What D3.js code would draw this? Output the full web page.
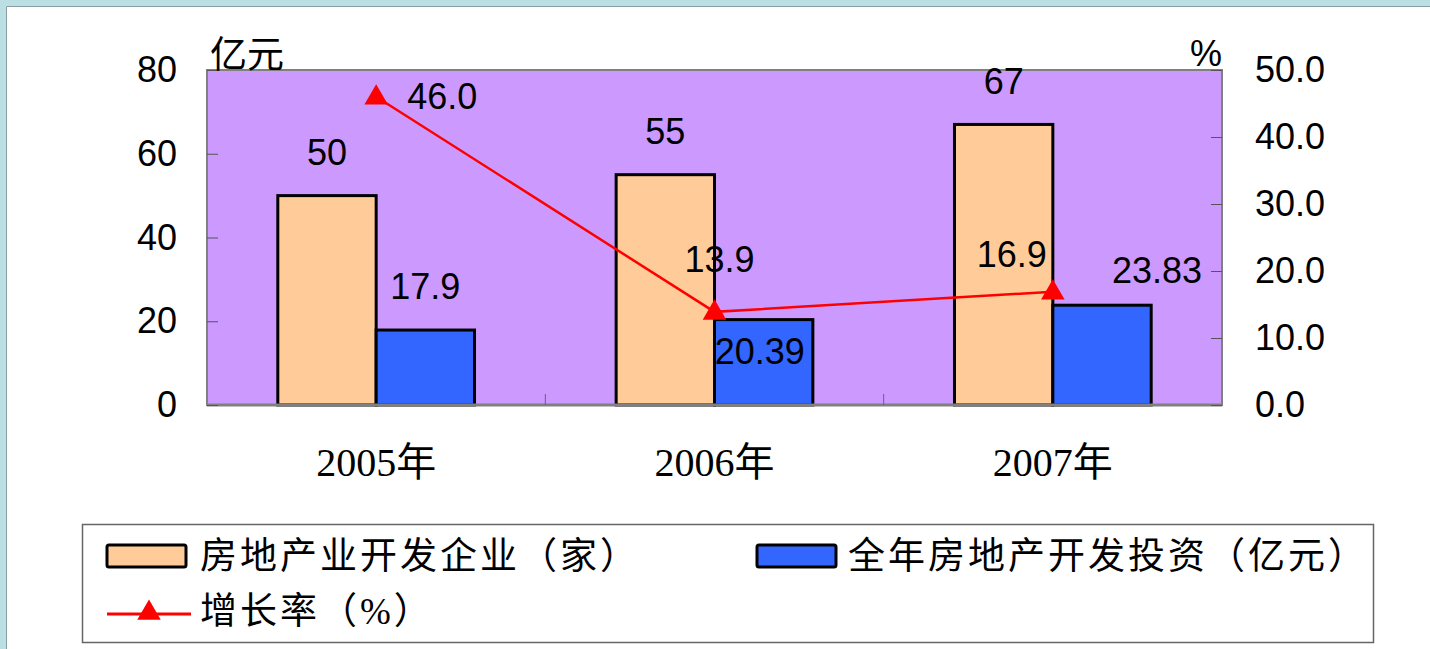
<!DOCTYPE html>
<html>
<head>
<meta charset="utf-8">
<script src="https://cdn.jsdelivr.net/npm/d3@7"></script>
<style>
  html, body { margin: 0; padding: 0; background: #fff; }
  svg { display: block; }
  .num { font-family: "Liberation Sans", Arial, sans-serif; }
  .cjk { font-family: "Liberation Serif", "Noto Sans CJK SC", serif; }
</style>
</head>
<body>
<div class="chart"></div>
<script>
// data
const years = ["2005年", "2006年", "2007年"];
const companies = [50, 55, 67];          // 房地产业开发企业（家）
const investment = [17.9, 20.39, 23.83]; // 全年房地产开发投资（亿元）
const growth = [46.0, 13.9, 16.9];       // 增长率（%）
const leftTicks = [0, 20, 40, 60, 80];
const rightTicks = [0, 10, 20, 30, 40, 50];
const seriesNames = ["房地产业开发企业（家）", "全年房地产开发投资（亿元）", "增长率（%）"];

// label nudges (px) - labels in the original were dragged around by hand
const investLabelNudge = [[0, -44], [-4, 32], [55, -35]];
const growthLabelNudge = [[66, 0], [5, -52], [-41, -37]];

const W = 1430, H = 649;
const plot = { left: 207, top: 70, right: 1222, bottom: 405 };

const svg = d3.select(".chart")
  .append("svg")
  .attr("width", W)
  .attr("height", H);

// window frame (top + left strip)
svg.append("rect").attr("x", 0).attr("y", 0).attr("width", W).attr("height", 6).attr("fill", "#bcdfe3");
svg.append("rect").attr("x", 0).attr("y", 0).attr("width", 6).attr("height", H).attr("fill", "#bcdfe3");
svg.append("line").attr("x1", 6.5).attr("x2", W).attr("y1", 6.5).attr("y2", 6.5).attr("stroke", "#8a9ea1").attr("stroke-width", 1);
svg.append("line").attr("x1", 6.5).attr("x2", 6.5).attr("y1", 6.5).attr("y2", H).attr("stroke", "#8a9ea1").attr("stroke-width", 1);

// scales
let x = d3.scaleBand().domain(years).range([plot.left, plot.right]).padding(0);
let xs = d3.scaleBand().domain([0, 1]).range([0, x.bandwidth()]).paddingInner(0).paddingOuter(0.72);
let yL = d3.scaleLinear().domain([0, 80]).range([plot.bottom, plot.top]);
let yR = d3.scaleLinear().domain([0, 50]).range([plot.bottom, plot.top]);

// plot area
svg.append("rect")
  .attr("x", plot.left)
  .attr("y", plot.top)
  .attr("width", plot.right - plot.left)
  .attr("height", plot.bottom - plot.top)
  .attr("fill", "#cc99ff")
  .attr("stroke", "#808080")
  .attr("stroke-width", 2);

// bars
let barData = [companies, investment];
let barColors = ["#ffcc99", "#3366ff"];
barData.forEach(function (vals, s) {
  svg.append("g")
    .selectAll("rect")
    .data(vals)
    .enter()
    .append("rect")
    .attr("x", function (d, i) { return x(years[i]) + xs(s); })
    .attr("y", function (d) { return yL(d); })
    .attr("width", xs.bandwidth())
    .attr("height", function (d) { return yL(0) - yL(d); })
    .attr("fill", barColors[s])
    .attr("stroke", "#000")
    .attr("stroke-width", 3);
});

// bottom axis line
svg.append("line")
  .attr("x1", plot.left).attr("x2", plot.right)
  .attr("y1", plot.bottom).attr("y2", plot.bottom)
  .attr("stroke", "#808080").attr("stroke-width", 3);

// category boundary ticks (inside)
svg.append("g")
  .selectAll("line")
  .data(years.slice(0, -1))
  .enter()
  .append("line")
  .attr("x1", function (d) { return x(d) + x.bandwidth(); })
  .attr("x2", function (d) { return x(d) + x.bandwidth(); })
  .attr("y1", plot.bottom)
  .attr("y2", plot.bottom - 11)
  .attr("stroke", "#666")
  .attr("stroke-width", 1);

// left axis
let leftAxis = svg.append("g")
  .attr("transform", `translate(${plot.left}, 0)`)
  .call(d3.axisLeft(yL).tickValues(leftTicks).tickSize(-11).tickPadding(30));
leftAxis.select(".domain").remove();
leftAxis.selectAll("line").attr("stroke", "#555");
leftAxis.selectAll("text")
  .attr("class", "num")
  .style("font-size", "36px")
  .attr("fill", "#000");

// right axis
let rightAxis = svg.append("g")
  .attr("transform", `translate(${plot.right}, 0)`)
  .call(d3.axisRight(yR).tickValues(rightTicks).tickSize(-11).tickPadding(33).tickFormat(d3.format(".1f")));
rightAxis.select(".domain").remove();
rightAxis.selectAll("line").attr("stroke", "#555");
rightAxis.selectAll("text")
  .attr("class", "num")
  .style("font-size", "36px")
  .attr("fill", "#000");

// category labels
let catAxis = svg.append("g")
  .attr("transform", `translate(0, ${plot.bottom})`)
  .call(d3.axisBottom(x).tickSize(0).tickPadding(43));
catAxis.select(".domain").remove();
catAxis.selectAll("text")
  .attr("class", "cjk")
  .style("font-size", "40px")
  .attr("fill", "#000");

// unit labels
svg.append("text")
  .attr("class", "cjk")
  .attr("x", 210).attr("y", 68)
  .style("font-size", "37px")
  .text("亿元");
svg.append("text")
  .attr("class", "num")
  .attr("x", plot.right).attr("y", 66)
  .attr("text-anchor", "end")
  .style("font-size", "36px")
  .text("%");

// growth line
let line = d3.line()
  .x(function (d, i) { return x(years[i]) + x.bandwidth() / 2; })
  .y(function (d) { return yR(d); });

svg.append("path")
  .datum(growth)
  .attr("d", line)
  .attr("fill", "none")
  .attr("stroke", "#ff0000")
  .attr("stroke-width", 2.5);

let tri = d3.symbol().type(d3.symbolTriangle).size(240);
svg.append("g")
  .selectAll("path")
  .data(growth)
  .enter()
  .append("path")
  .attr("d", tri)
  .attr("transform", function (d, i) {
    return `translate(${x(years[i]) + x.bandwidth() / 2}, ${yR(d) + 1})`;
  })
  .attr("fill", "#ff0000");

// data labels
let labels = svg.append("g").attr("class", "num").style("font-size", "36px").attr("text-anchor", "middle");

labels.selectAll(".lab-c")
  .data(companies)
  .enter()
  .append("text")
  .attr("x", function (d, i) { return x(years[i]) + xs(0) + xs.bandwidth() / 2; })
  .attr("y", function (d) { return yL(d) - 43; })
  .attr("dy", "0.35em")
  .text(function (d) { return d; });

labels.selectAll(".lab-i")
  .data(investment)
  .enter()
  .append("text")
  .attr("x", function (d, i) { return x(years[i]) + xs(1) + xs.bandwidth() / 2 + investLabelNudge[i][0]; })
  .attr("y", function (d, i) { return yL(d) + investLabelNudge[i][1]; })
  .attr("dy", "0.35em")
  .text(function (d) { return d; });

labels.selectAll(".lab-g")
  .data(growth)
  .enter()
  .append("text")
  .attr("x", function (d, i) { return x(years[i]) + x.bandwidth() / 2 + growthLabelNudge[i][0]; })
  .attr("y", function (d, i) { return yR(d) + growthLabelNudge[i][1]; })
  .attr("dy", "0.35em")
  .text(function (d) { return d3.format(".1f")(d); });

// legend
let legend = svg.append("g");
legend.append("rect")
  .attr("x", 82.5).attr("y", 524.5)
  .attr("width", 1291).attr("height", 118)
  .attr("fill", "#fff")
  .attr("stroke", "#666")
  .attr("stroke-width", 1.5);

let swatchX = [107, 757];
let textX = [200, 848];
[0, 1].forEach(function (s) {
  legend.append("rect")
    .attr("x", swatchX[s]).attr("y", 545)
    .attr("width", 79).attr("height", 22)
    .attr("rx", 2)
    .attr("fill", barColors[s])
    .attr("stroke", "#000")
    .attr("stroke-width", 3);
  legend.append("text")
    .attr("class", "cjk")
    .attr("x", textX[s]).attr("y", 556)
    .attr("dy", "0.36em")
    .style("font-size", "37px")
    .style("letter-spacing", "3px")
    .text(seriesNames[s]);
});

legend.append("line")
  .attr("x1", 107).attr("x2", 191)
  .attr("y1", 614).attr("y2", 614)
  .attr("stroke", "#ff0000").attr("stroke-width", 3);
legend.append("path")
  .attr("d", tri)
  .attr("transform", "translate(149, 613)")
  .attr("fill", "#ff0000");
legend.append("text")
  .attr("class", "cjk")
  .attr("x", 200).attr("y", 611)
  .attr("dy", "0.36em")
  .style("font-size", "37px")
  .style("letter-spacing", "3px")
  .text(seriesNames[2]);
</script>
</body>
</html>
